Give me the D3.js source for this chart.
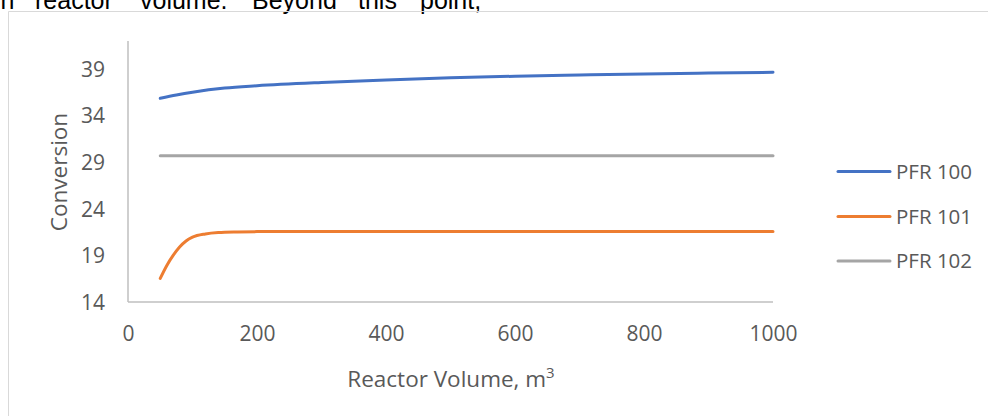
<!DOCTYPE html>
<html>
<head>
<meta charset="utf-8">
<script src="https://cdn.jsdelivr.net/npm/d3@7"></script>
<style>
  html, body { margin: 0; padding: 0; background: #fff; }
  svg { display: block; }
</style>
</head>
<body>
<svg id="chart" width="988" height="416"></svg>
<script>
// ---- data ----
const seriesNames = ["PFR 100", "PFR 101", "PFR 102"];
const seriesColors = ["#4472C4", "#ED7D31", "#A5A5A5"];

const volumes100 = [50, 75, 100, 150, 200, 300, 400, 500, 600, 700, 800, 900, 1000];
const pfr100 = [35.85, 36.2, 36.5, 36.95, 37.2, 37.55, 37.82, 38.05, 38.22, 38.35, 38.47, 38.56, 38.64];

const volumes101 = [50, 60, 70, 80, 90, 100, 120, 140, 170, 200, 300, 400, 500, 600, 700, 800, 900, 1000];
const pfr101 = [16.54, 17.9, 19.0, 19.9, 20.55, 20.95, 21.3, 21.45, 21.52, 21.55, 21.57, 21.57, 21.57, 21.57, 21.57, 21.56, 21.56, 21.56];

const volumes102 = [50, 200, 400, 600, 800, 1000];
const pfr102 = [29.7, 29.7, 29.7, 29.7, 29.7, 29.7];

const xTicks = [0, 200, 400, 600, 800, 1000];
const yTicks = [14, 19, 24, 29, 34, 39];

const xTitle = "Reactor Volume, m";
const yTitle = "Conversion";
const pageWords = ["in", "reactor", "volume.", "Beyond", "this", "point,"];

// ---- drawing ----
const svg = d3.select("#chart");
const font = "'Open Sans', 'Liberation Sans', sans-serif";
const textColor = "#595959";

// surrounding document text (cut off at top, as in the source page)
const wordX = [-5, 35, 140, 252, 358, 420];
svg.append("g").selectAll("text").data(pageWords).join("text")
  .attr("x", (d, i) => wordX[i]).attr("y", 8.5)
  .attr("font-family", "'Liberation Sans', Arial, sans-serif")
  .attr("font-size", 25).attr("fill", "#000")
  .text(d => d);

// chart frame
svg.append("path")
  .attr("d", "M8.5,416 V11.5 H988")
  .attr("fill", "none").attr("stroke", "#d9d9d9").attr("stroke-width", 1);

const x = d3.scaleLinear().domain([0, 1000]).range([128, 773]);
const y = d3.scaleLinear().domain([14, 42]).range([302, 41]);

// axes lines
svg.append("line").attr("x1", x(0)).attr("x2", x(0)).attr("y1", y(42)).attr("y2", y(14))
  .attr("stroke", "#bfbfbf").attr("stroke-width", 1.5);
svg.append("line").attr("x1", x(0)).attr("x2", x(1000)).attr("y1", y(14)).attr("y2", y(14))
  .attr("stroke", "#bfbfbf").attr("stroke-width", 1.5);

// x tick labels
const xAxis = svg.append("g").attr("transform", `translate(0,${y(14)})`)
  .call(d3.axisBottom(x).tickValues(xTicks).tickSize(0).tickPadding(0).tickFormat(d3.format("d")));
xAxis.select(".domain").remove();
xAxis.selectAll("text").attr("y", 39).attr("dy", 0)
  .attr("font-family", font).attr("font-size", 21).attr("fill", textColor);

// y tick labels
const yAxis = svg.append("g").attr("transform", `translate(${x(0)},0)`)
  .call(d3.axisLeft(y).tickValues(yTicks).tickSize(0).tickPadding(0).tickFormat(d3.format("d")));
yAxis.select(".domain").remove();
yAxis.selectAll("text").attr("x", -23).attr("dy", "0.35em")
  .attr("font-family", font).attr("font-size", 21).attr("fill", textColor);

// axis titles
const xt = svg.append("text").attr("x", 451).attr("y", 387).attr("text-anchor", "middle")
  .attr("font-family", font).attr("font-size", 22.5).attr("fill", textColor);
xt.append("tspan").text(xTitle);
xt.append("tspan").attr("font-size", 15).attr("dy", -9).text("3");

svg.append("text").attr("transform", "translate(67,172) rotate(-90)")
  .attr("text-anchor", "middle")
  .attr("font-family", font).attr("font-size", 22.5).attr("fill", textColor)
  .text(yTitle);

// lines
const series = [
  { name: seriesNames[0], vx: volumes100, vy: pfr100 },
  { name: seriesNames[1], vx: volumes101, vy: pfr101 },
  { name: seriesNames[2], vx: volumes102, vy: pfr102 }
];
const line = d3.line().x(d => x(d[0])).y(d => y(d[1])).curve(d3.curveMonotoneX);
series.forEach((s, i) => {
  svg.append("path")
    .datum(s.vx.map((v, j) => [v, s.vy[j]]))
    .attr("d", line)
    .attr("fill", "none")
    .attr("stroke", seriesColors[i])
    .attr("stroke-width", 3)
    .attr("stroke-linecap", "round")
    .attr("stroke-linejoin", "round");
});

// legend
const legendY = [171.5, 216.5, 261];
const lg = svg.append("g");
seriesNames.forEach((n, i) => {
  lg.append("line").attr("x1", 838).attr("x2", 890).attr("y1", legendY[i]).attr("y2", legendY[i])
    .attr("stroke", seriesColors[i]).attr("stroke-width", 3).attr("stroke-linecap", "round");
  lg.append("text").attr("x", 896).attr("y", legendY[i]).attr("dy", "0.35em")
    .attr("font-family", font).attr("font-size", 20.5).attr("fill", textColor).text(n);
});
</script>
</body>
</html>
